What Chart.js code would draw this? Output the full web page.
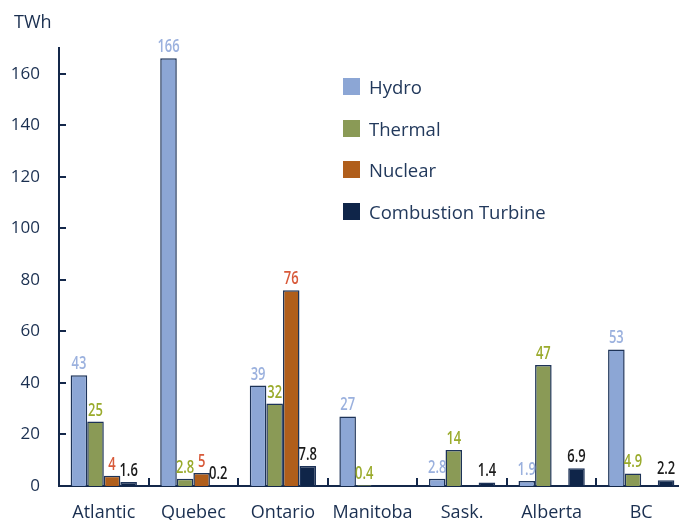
<!DOCTYPE html>
<html>
<head>
<meta charset="utf-8">
<script src="https://cdn.jsdelivr.net/npm/chart.js@4"></script>
<style>
  html, body { margin: 0; padding: 0; background: #fff; overflow: hidden; }
  #wrap { position: relative; width: 690px; height: 520px; }
  #legend { position: absolute; left: 343px; top: 78px; font-family: "Open Sans", sans-serif; font-size: 18.5px; color: #22395c; }
  .row { display: flex; align-items: center; height: 17px; margin-bottom: 24.5px; white-space: nowrap; }
  .sw { width: 17px; height: 17px; margin-right: 9px; flex: none; }
</style>
</head>
<body>
<div id="wrap">
  <canvas id="c" width="690" height="520"></canvas>
  <div id="legend"></div>
</div>
<script>
// Electricity generation by province and source (TWh)
const categories = ['Atlantic', 'Quebec', 'Ontario', 'Manitoba', 'Sask.', 'Alberta', 'BC'];
const seriesNames = ['Hydro', 'Thermal', 'Nuclear', 'Combustion Turbine'];
const hydro = [43, 166, 39, 27, 2.8, 1.9, 53];
const thermal = [25, 2.8, 32, 0.4, 14, 47, 4.9];
const nuclear = [4, 5, 76, null, null, null, null];
const combustionTurbine = [1.6, 0.2, 7.8, null, 1.4, 6.9, 2.2];
const yTickValues = [0, 20, 40, 60, 80, 100, 120, 140, 160];
const unitLabel = 'TWh';

const barColors = ['#8ca6d5', '#8a9a56', '#b05e1b', '#0f2549'];
const labelColors = ['#9bb1de', '#9aab2c', '#d85a3a', '#1b1b1b'];
const axisColor = '#14284a';
const textColor = '#1a2f50';

const seriesData = [hydro, thermal, nuclear, combustionTurbine];

// value labels above each bar, set in a condensed face
const valueLabels = {
  id: 'valueLabels',
  afterDatasetsDraw(chart) {
    const ctx = chart.ctx;
    const squeeze = 0.7;
    chart.data.datasets.forEach((ds, di) => {
      const meta = chart.getDatasetMeta(di);
      meta.data.forEach((el, i) => {
        const v = ds.data[i];
        if (v === null || v === undefined) return;
        ctx.save();
        ctx.font = '600 18.5px "Open Sans", sans-serif';
        ctx.textAlign = 'center';
        ctx.textBaseline = 'alphabetic';
        ctx.fillStyle = labelColors[di];
        ctx.translate(el.x, el.y - 6);
        ctx.scale(squeeze, 1);
        ctx.fillText(String(v), 0, 0);
        ctx.restore();
      });
    });
  }
};

// unit label above the value axis
const unitTitle = {
  id: 'unitTitle',
  afterDraw(chart) {
    const { ctx, chartArea } = chart;
    ctx.save();
    ctx.font = '18px "Open Sans", sans-serif';
    ctx.fillStyle = textColor;
    ctx.textAlign = 'left';
    ctx.textBaseline = 'alphabetic';
    ctx.fillText(unitLabel, chartArea.left - 45, chartArea.top - 20);
    ctx.restore();
  }
};

// inward tick marks on the value axis and category separators on the base line
const axisMarks = {
  id: 'axisMarks',
  afterDraw(chart) {
    const { ctx, chartArea, scales: { x, y } } = chart;
    ctx.save();
    ctx.strokeStyle = axisColor;
    ctx.lineWidth = 2;
    ctx.beginPath();
    y.ticks.forEach(t => {
      if (t.value === 0) return;
      const py = Math.round(y.getPixelForValue(t.value));
      ctx.moveTo(chartArea.left, py);
      ctx.lineTo(chartArea.left + 7, py);
    });
    for (let i = 1; i < categories.length; i++) {
      const px = Math.round((x.getPixelForValue(i - 1) + x.getPixelForValue(i)) / 2);
      ctx.moveTo(px, chartArea.bottom);
      ctx.lineTo(px, chartArea.bottom - 8);
    }
    ctx.stroke();
    ctx.restore();
  }
};

new Chart(document.getElementById('c'), {
  type: 'bar',
  data: {
    labels: categories,
    datasets: seriesNames.map((name, i) => ({
      label: name,
      data: seriesData[i],
      backgroundColor: barColors[i],
      borderColor: '#1d3358',
      borderWidth: 1.5,
      categoryPercentage: 0.74,
      barPercentage: 1.0
    }))
  },
  options: {
    responsive: false,
    animation: false,
    devicePixelRatio: 1,
    layout: { padding: { left: 0, right: 4, top: 48, bottom: 0 } },
    plugins: {
      legend: { display: false },
      tooltip: { enabled: false },
      title: { display: false }
    },
    scales: {
      x: {
        grid: { display: false, drawTicks: false },
        border: { display: true, color: axisColor, width: 2 },
        ticks: {
          color: textColor,
          font: { family: '"Open Sans", sans-serif', size: 18 },
          padding: 16,
          maxRotation: 0
        },
        afterFit(scale) { scale.height = 34; }
      },
      y: {
        min: 0,
        max: 170,
        afterBuildTicks(scale) { scale.ticks = yTickValues.map(v => ({ value: v })); },
        grid: { display: false, drawTicks: false },
        border: { display: true, color: axisColor, width: 2 },
        ticks: {
          color: textColor,
          font: { family: '"Open Sans", sans-serif', size: 17 },
          padding: 19
        },
        afterFit(scale) { scale.width = 59; }
      }
    }
  },
  plugins: [valueLabels, axisMarks, unitTitle]
});

// legend built from the series definitions
const legend = document.getElementById('legend');
seriesNames.forEach((name, i) => {
  const row = document.createElement('div');
  row.className = 'row';
  const sw = document.createElement('span');
  sw.className = 'sw';
  sw.style.background = barColors[i];
  const tx = document.createElement('span');
  tx.textContent = name;
  row.appendChild(sw);
  row.appendChild(tx);
  legend.appendChild(row);
});
</script>
</body>
</html>
